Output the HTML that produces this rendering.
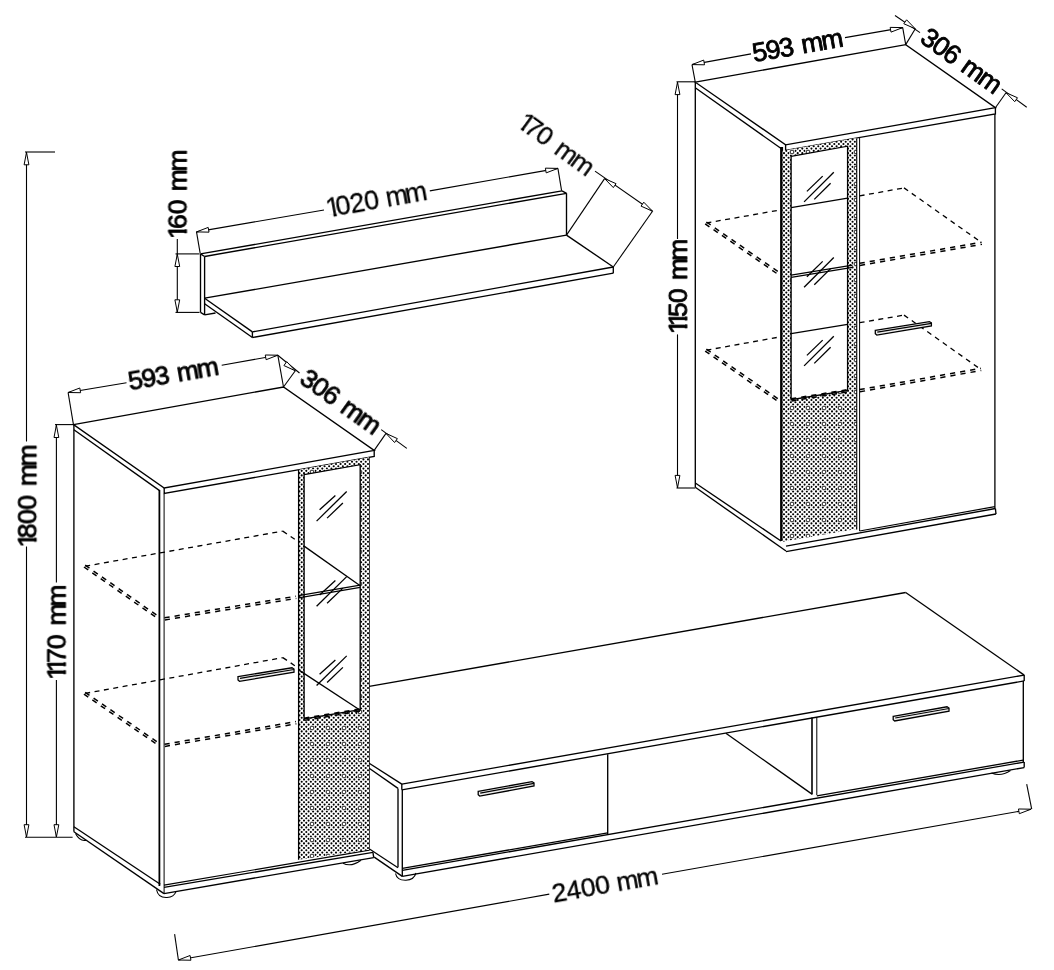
<!DOCTYPE html>
<html><head><meta charset="utf-8"><title>Furniture dimensions</title>
<style>
html,body{margin:0;padding:0;background:#fff;}
body{width:1054px;height:970px;overflow:hidden;font-family:"Liberation Sans",sans-serif;}
svg{display:block}
svg text{font-family:"Liberation Sans",sans-serif;}
</style></head><body>
<svg width="1054" height="970" viewBox="0 0 1054 970" stroke="#000" fill="none" stroke-linecap="butt">
<defs>
<pattern id="pat" width="32" height="32" patternUnits="userSpaceOnUse"><rect width="32" height="32" fill="#fff" stroke="none"/><g fill="#000" stroke="none"><circle cx="0.00" cy="0.00" r="1.06"/><circle cx="2.29" cy="2.29" r="1.06"/><circle cx="0.00" cy="4.57" r="1.06"/><circle cx="2.29" cy="6.86" r="1.06"/><circle cx="0.00" cy="9.14" r="1.06"/><circle cx="2.29" cy="11.43" r="1.06"/><circle cx="0.00" cy="13.71" r="1.06"/><circle cx="2.29" cy="16.00" r="1.06"/><circle cx="0.00" cy="18.29" r="1.06"/><circle cx="2.29" cy="20.57" r="1.06"/><circle cx="0.00" cy="22.86" r="1.06"/><circle cx="2.29" cy="25.14" r="1.06"/><circle cx="0.00" cy="27.43" r="1.06"/><circle cx="2.29" cy="29.71" r="1.06"/><circle cx="0.00" cy="32.00" r="1.06"/><circle cx="4.57" cy="0.00" r="1.06"/><circle cx="6.86" cy="2.29" r="1.06"/><circle cx="4.57" cy="4.57" r="1.06"/><circle cx="6.86" cy="6.86" r="1.06"/><circle cx="4.57" cy="9.14" r="1.06"/><circle cx="6.86" cy="11.43" r="1.06"/><circle cx="4.57" cy="13.71" r="1.06"/><circle cx="6.86" cy="16.00" r="1.06"/><circle cx="4.57" cy="18.29" r="1.06"/><circle cx="6.86" cy="20.57" r="1.06"/><circle cx="4.57" cy="22.86" r="1.06"/><circle cx="6.86" cy="25.14" r="1.06"/><circle cx="4.57" cy="27.43" r="1.06"/><circle cx="6.86" cy="29.71" r="1.06"/><circle cx="4.57" cy="32.00" r="1.06"/><circle cx="9.14" cy="0.00" r="1.06"/><circle cx="11.43" cy="2.29" r="1.06"/><circle cx="9.14" cy="4.57" r="1.06"/><circle cx="11.43" cy="6.86" r="1.06"/><circle cx="9.14" cy="9.14" r="1.06"/><circle cx="11.43" cy="11.43" r="1.06"/><circle cx="9.14" cy="13.71" r="1.06"/><circle cx="11.43" cy="16.00" r="1.06"/><circle cx="9.14" cy="18.29" r="1.06"/><circle cx="11.43" cy="20.57" r="1.06"/><circle cx="9.14" cy="22.86" r="1.06"/><circle cx="11.43" cy="25.14" r="1.06"/><circle cx="9.14" cy="27.43" r="1.06"/><circle cx="11.43" cy="29.71" r="1.06"/><circle cx="9.14" cy="32.00" r="1.06"/><circle cx="13.71" cy="0.00" r="1.06"/><circle cx="16.00" cy="2.29" r="1.06"/><circle cx="13.71" cy="4.57" r="1.06"/><circle cx="16.00" cy="6.86" r="1.06"/><circle cx="13.71" cy="9.14" r="1.06"/><circle cx="16.00" cy="11.43" r="1.06"/><circle cx="13.71" cy="13.71" r="1.06"/><circle cx="16.00" cy="16.00" r="1.06"/><circle cx="13.71" cy="18.29" r="1.06"/><circle cx="16.00" cy="20.57" r="1.06"/><circle cx="13.71" cy="22.86" r="1.06"/><circle cx="16.00" cy="25.14" r="1.06"/><circle cx="13.71" cy="27.43" r="1.06"/><circle cx="16.00" cy="29.71" r="1.06"/><circle cx="13.71" cy="32.00" r="1.06"/><circle cx="18.29" cy="0.00" r="1.06"/><circle cx="20.57" cy="2.29" r="1.06"/><circle cx="18.29" cy="4.57" r="1.06"/><circle cx="20.57" cy="6.86" r="1.06"/><circle cx="18.29" cy="9.14" r="1.06"/><circle cx="20.57" cy="11.43" r="1.06"/><circle cx="18.29" cy="13.71" r="1.06"/><circle cx="20.57" cy="16.00" r="1.06"/><circle cx="18.29" cy="18.29" r="1.06"/><circle cx="20.57" cy="20.57" r="1.06"/><circle cx="18.29" cy="22.86" r="1.06"/><circle cx="20.57" cy="25.14" r="1.06"/><circle cx="18.29" cy="27.43" r="1.06"/><circle cx="20.57" cy="29.71" r="1.06"/><circle cx="18.29" cy="32.00" r="1.06"/><circle cx="22.86" cy="0.00" r="1.06"/><circle cx="25.14" cy="2.29" r="1.06"/><circle cx="22.86" cy="4.57" r="1.06"/><circle cx="25.14" cy="6.86" r="1.06"/><circle cx="22.86" cy="9.14" r="1.06"/><circle cx="25.14" cy="11.43" r="1.06"/><circle cx="22.86" cy="13.71" r="1.06"/><circle cx="25.14" cy="16.00" r="1.06"/><circle cx="22.86" cy="18.29" r="1.06"/><circle cx="25.14" cy="20.57" r="1.06"/><circle cx="22.86" cy="22.86" r="1.06"/><circle cx="25.14" cy="25.14" r="1.06"/><circle cx="22.86" cy="27.43" r="1.06"/><circle cx="25.14" cy="29.71" r="1.06"/><circle cx="22.86" cy="32.00" r="1.06"/><circle cx="27.43" cy="0.00" r="1.06"/><circle cx="29.71" cy="2.29" r="1.06"/><circle cx="27.43" cy="4.57" r="1.06"/><circle cx="29.71" cy="6.86" r="1.06"/><circle cx="27.43" cy="9.14" r="1.06"/><circle cx="29.71" cy="11.43" r="1.06"/><circle cx="27.43" cy="13.71" r="1.06"/><circle cx="29.71" cy="16.00" r="1.06"/><circle cx="27.43" cy="18.29" r="1.06"/><circle cx="29.71" cy="20.57" r="1.06"/><circle cx="27.43" cy="22.86" r="1.06"/><circle cx="29.71" cy="25.14" r="1.06"/><circle cx="27.43" cy="27.43" r="1.06"/><circle cx="29.71" cy="29.71" r="1.06"/><circle cx="27.43" cy="32.00" r="1.06"/><circle cx="32.00" cy="0.00" r="1.06"/><circle cx="32.00" cy="4.57" r="1.06"/><circle cx="32.00" cy="9.14" r="1.06"/><circle cx="32.00" cy="13.71" r="1.06"/><circle cx="32.00" cy="18.29" r="1.06"/><circle cx="32.00" cy="22.86" r="1.06"/><circle cx="32.00" cy="27.43" r="1.06"/><circle cx="32.00" cy="32.00" r="1.06"/><circle cx="8" cy="8" r="2.9" fill="#fff"/><circle cx="8" cy="8" r="1.9" fill="none" stroke="#000" stroke-width="0.9"/><circle cx="24" cy="24" r="2.9" fill="#fff"/><circle cx="24" cy="24" r="1.9" fill="none" stroke="#000" stroke-width="0.9"/><circle cx="24" cy="8" r="2.9" fill="#fff"/><circle cx="24" cy="8" r="1.9" fill="none" stroke="#000" stroke-width="0.9"/><circle cx="8" cy="24" r="2.9" fill="#fff"/><circle cx="8" cy="24" r="1.9" fill="none" stroke="#000" stroke-width="0.9"/></g></pattern><clipPath id="c1_0"><path d="M-3,-40 H30 V-2.91 H9.74 V3 H5.93 V-2.91 H-3 Z"/></clipPath><clipPath id="c1_1"><path d="M-3,-40 H30 V-2.66 H9.56 V3 H6.28 V-2.66 H-3 Z"/></clipPath><clipPath id="c1_2"><path d="M-3,-40 H30 V-2.63 H9.43 V3 H6.18 V-2.63 H-3 Z"/></clipPath>
</defs>
<rect width="1054" height="970" fill="#fff" stroke="none"/>
<line x1="26.5" y1="152" x2="26.5" y2="441.5" stroke-width="1.1"/>
<line x1="26.5" y1="546.5" x2="26.5" y2="837" stroke-width="1.1"/>
<line x1="25" y1="152" x2="55" y2="152" stroke-width="1.1"/>
<line x1="25" y1="837.2" x2="72.6" y2="837.2" stroke-width="1.1"/>
<polygon points="26.5,152.5 24.1,164.8 28.9,164.8" fill="#fff" stroke-width="1.0"/>
<polygon points="26.5,837 28.9,824.7 24.1,824.7" fill="#fff" stroke-width="1.0"/>
<line x1="56.4" y1="424" x2="56.4" y2="582.5" stroke-width="1.1"/>
<line x1="56.4" y1="680" x2="56.4" y2="837" stroke-width="1.1"/>
<line x1="55" y1="424.6" x2="73.5" y2="424.6" stroke-width="1.1"/>
<polygon points="56.4,425.2 54.0,437.5 58.8,437.5" fill="#fff" stroke-width="1.0"/>
<polygon points="56.4,837 58.8,824.7 54.0,824.7" fill="#fff" stroke-width="1.0"/>
<polygon points="73.5,424.6 283.5,387 374.2,450.4 164.2,488.0" fill="none" stroke-width="1.35"/>
<polyline points="164.2,488.0 164.2,493.4 374.2,456.4 374.2,450.4" fill="none" stroke-width="1.35"/>
<line x1="73.9" y1="429.8" x2="159.6" y2="490.6" stroke-width="1.35"/>
<line x1="73.9" y1="424" x2="73.9" y2="831.7" stroke-width="1.35"/>
<line x1="159.4" y1="490" x2="159.4" y2="886" stroke-width="1.8"/>
<line x1="164.1" y1="493.8" x2="164.1" y2="893.6" stroke-width="1.0"/>
<line x1="369.2" y1="456.9" x2="369.2" y2="850.5" stroke-width="1.35"/>
<line x1="73.9" y1="826.7" x2="160.3" y2="884.3" stroke-width="1.35"/>
<line x1="73.9" y1="831.7" x2="164" y2="893.6" stroke-width="1.35"/>
<line x1="164" y1="887.3" x2="373" y2="852.3" stroke-width="1.35"/>
<line x1="164" y1="885.2" x2="369.2" y2="850.2" stroke-width="1.2"/>
<line x1="164" y1="893.6" x2="373.7" y2="857.6" stroke-width="1.35"/>
<line x1="373" y1="852.3" x2="373.7" y2="857.6" stroke-width="1.35"/>
<path d="M75.5,833.5 Q80,842 86.5,840.2" fill="none" stroke-width="1.1"/>
<path d="M156.5,889.5 Q158,898 167,897.5 Q174,897 176,891.6" fill="none" stroke-width="1.1"/>
<path d="M343,863.2 Q351,867.5 361,860.2" fill="none" stroke-width="1.1"/>
<path fill-rule="evenodd" fill="url(#pat)" stroke="none" d="M298.6,469.81899999999996 L369.2,457.28749999999997 L369.2,849.7 L298.6,859.8 Z M304.1,474.7 L360.2,464.7 L360.2,709.7 L304.1,719 Z"/>
<line x1="298.6" y1="469.81899999999996" x2="298.6" y2="859.8" stroke-width="1.3"/>
<polygon points="304.1,474.7 360.2,464.7 360.2,709.7 304.1,719" fill="none" stroke-width="1.35"/>
<line x1="85.2" y1="566.2" x2="282.8" y2="531.1" stroke-width="1.3" stroke-dasharray="5 4.5"/>
<line x1="282.8" y1="531.1" x2="298" y2="541.5" stroke-width="1.3" stroke-dasharray="5 4.5"/>
<line x1="304.1" y1="546.1" x2="360.2" y2="585.7" stroke-width="1.3"/>
<line x1="85.2" y1="565.2" x2="160.3" y2="617.6" stroke-width="1.5" stroke-dasharray="5.2 5"/>
<line x1="83.94" y1="567.0" x2="159.04" y2="619.4" stroke-width="1.5" stroke-dasharray="5.2 5"/>
<line x1="164.5" y1="617.8" x2="296" y2="596.2" stroke-width="1.5" stroke-dasharray="5.2 5"/>
<line x1="164.86" y1="619.97" x2="296.36" y2="598.37" stroke-width="1.5" stroke-dasharray="5.2 5"/>
<line x1="298.6" y1="595.7" x2="360.2" y2="585.2" stroke-width="1.2"/>
<line x1="298.6" y1="597.9" x2="360.2" y2="587.4" stroke-width="1.2"/>
<line x1="85.2" y1="693.4" x2="282.8" y2="657.6" stroke-width="1.3" stroke-dasharray="5 4.5"/>
<line x1="282.8" y1="657.6" x2="296" y2="666.5" stroke-width="1.3" stroke-dasharray="5 4.5"/>
<line x1="299" y1="670.1" x2="360.2" y2="710.2" stroke-width="1.3"/>
<line x1="85.2" y1="692.4" x2="160.3" y2="744" stroke-width="1.5" stroke-dasharray="5.2 5"/>
<line x1="83.95" y1="694.21" x2="159.05" y2="745.81" stroke-width="1.5" stroke-dasharray="5.2 5"/>
<line x1="164.5" y1="744.3" x2="296" y2="721.6" stroke-width="1.5" stroke-dasharray="5.2 5"/>
<line x1="164.87" y1="746.47" x2="296.37" y2="723.77" stroke-width="1.5" stroke-dasharray="5.2 5"/>
<line x1="304.1" y1="718.2" x2="360.2" y2="708.9" stroke-width="1.5" stroke-dasharray="5.2 5"/>
<line x1="304.46" y1="720.37" x2="360.56" y2="711.07" stroke-width="1.5" stroke-dasharray="5.2 5"/>
<line x1="316.6" y1="521.1" x2="346.7" y2="491.5" stroke-width="1.3"/>
<line x1="319.6" y1="509.8" x2="335.4" y2="495.5" stroke-width="1.3"/>
<line x1="327.1" y1="518.1" x2="342.9" y2="503" stroke-width="1.3"/>
<line x1="316.6" y1="606.2" x2="346.7" y2="576.6" stroke-width="1.3"/>
<line x1="319.6" y1="594.9" x2="335.4" y2="580.6" stroke-width="1.3"/>
<line x1="327.1" y1="603.2" x2="342.9" y2="588.1" stroke-width="1.3"/>
<line x1="316.6" y1="685.5" x2="346.7" y2="655.9" stroke-width="1.3"/>
<line x1="319.6" y1="674.2" x2="335.4" y2="659.9" stroke-width="1.3"/>
<line x1="327.1" y1="682.5" x2="342.9" y2="667.4" stroke-width="1.3"/>
<polygon points="238,676.6 292,667.8 294,669.0 294,672.1999999999999 239.5,681.3 238,680.0" fill="#eee" stroke-width="1.3"/>
<line x1="240" y1="678.3000000000001" x2="294" y2="669.5" stroke-width="1.2"/>
<line x1="369.2" y1="686.4" x2="905.7" y2="592.5" stroke-width="1.35"/>
<line x1="905.7" y1="592.5" x2="1024.2" y2="675.1" stroke-width="1.35"/>
<line x1="401.8" y1="784.1" x2="1024.2" y2="675.1" stroke-width="1.35"/>
<line x1="401.8" y1="789.8" x2="1024.2" y2="680.9" stroke-width="1.35"/>
<line x1="1024.2" y1="675.1" x2="1024.2" y2="680.9" stroke-width="1.35"/>
<line x1="401.8" y1="784.1" x2="401.8" y2="789.8" stroke-width="1.35"/>
<line x1="369.2" y1="763.3" x2="401.8" y2="784.1" stroke-width="1.35"/>
<line x1="369.2" y1="768.3" x2="398" y2="788.4" stroke-width="1.35"/>
<line x1="398" y1="788.4" x2="398" y2="867.3" stroke-width="1.35"/>
<line x1="402.3" y1="789.8" x2="402.3" y2="876.4" stroke-width="1.35"/>
<line x1="374.2" y1="857.1" x2="402.3" y2="876.4" stroke-width="1.35"/>
<line x1="369.5" y1="849" x2="398" y2="867.8" stroke-width="1.2"/>
<line x1="402.3" y1="870.4" x2="1024.2" y2="762.1" stroke-width="1.35"/>
<line x1="402.3" y1="876.4" x2="1024.2" y2="767.6" stroke-width="1.35"/>
<line x1="1024.2" y1="762.1" x2="1024.2" y2="767.6" stroke-width="1.35"/>
<line x1="1023.3" y1="681" x2="1023.3" y2="762" stroke-width="1.35"/>
<line x1="607.7" y1="754.2" x2="607.7" y2="834.2" stroke-width="1.35"/>
<line x1="402.3" y1="868.4" x2="607.7" y2="832.8" stroke-width="1.3"/>
<line x1="812" y1="717.5" x2="812" y2="794.5" stroke-width="1.6"/>
<line x1="816.8" y1="717" x2="816.8" y2="795" stroke-width="1.0"/>
<line x1="816.8" y1="795.8" x2="1023.3" y2="760.1" stroke-width="1.3"/>
<line x1="725.9" y1="733.3" x2="812" y2="794.1" stroke-width="1.35"/>
<path d="M395.5,873.5 Q397,880.5 406,880.2 Q414,880 416,873" fill="none" stroke-width="1.1"/>
<path d="M991.5,773 Q1001,777 1010.5,770.5" fill="none" stroke-width="1.1"/>
<polygon points="478.2,791.4 532,781.6 534,782.8000000000001 534,786.0 479.7,796.0999999999999 478.2,794.8" fill="#eee" stroke-width="1.3"/>
<line x1="480.2" y1="793.1" x2="534" y2="783.3000000000001" stroke-width="1.2"/>
<polygon points="893.2,716.3 947,706.8 949,708.0 949,711.1999999999999 894.7,720.9999999999999 893.2,719.6999999999999" fill="#eee" stroke-width="1.3"/>
<line x1="895.2" y1="718.0" x2="949" y2="708.5" stroke-width="1.2"/>
<line x1="178.4" y1="960" x2="549.3" y2="894.1" stroke-width="1.1"/>
<line x1="662" y1="874.3" x2="1031" y2="809.2" stroke-width="1.1"/>
<line x1="174.6" y1="934.2" x2="178.4" y2="960" stroke-width="1.1"/>
<line x1="1026.7" y1="784.1" x2="1031.7" y2="809.2" stroke-width="1.1"/>
<polygon points="178.4,960 190.93,960.22 190.09,955.49" fill="#fff" stroke-width="1.0"/>
<polygon points="1031,809.2 1018.47,808.98 1019.31,813.71" fill="#fff" stroke-width="1.0"/>
<line x1="200.5" y1="253.9" x2="200.5" y2="312.4" stroke-width="1.35"/>
<line x1="204.6" y1="256.5" x2="204.6" y2="314.9" stroke-width="1.35"/>
<line x1="200.5" y1="253.9" x2="204.6" y2="256.5" stroke-width="1.35"/>
<line x1="200.5" y1="312.4" x2="204.6" y2="314.9" stroke-width="1.35"/>
<line x1="200.5" y1="253.9" x2="562" y2="190.8" stroke-width="1.35"/>
<line x1="204.6" y1="256.5" x2="566.5" y2="193.3" stroke-width="1.35"/>
<line x1="562" y1="190.8" x2="566.5" y2="193.3" stroke-width="1.35"/>
<line x1="566.5" y1="193.3" x2="566.5" y2="235.1" stroke-width="1.35"/>
<line x1="204.6" y1="298.2" x2="566.5" y2="235.1" stroke-width="1.35"/>
<line x1="204.6" y1="298.2" x2="252.4" y2="331.9" stroke-width="1.35"/>
<line x1="204.6" y1="303.8" x2="252.4" y2="337.5" stroke-width="1.35"/>
<line x1="252.4" y1="331.9" x2="252.4" y2="337.5" stroke-width="1.35"/>
<line x1="204.6" y1="314.9" x2="215.5" y2="313" stroke-width="1.35"/>
<line x1="252.4" y1="331.9" x2="613.3" y2="267" stroke-width="1.35"/>
<line x1="252.4" y1="337.5" x2="613.3" y2="273.2" stroke-width="1.35"/>
<line x1="613.3" y1="267" x2="613.3" y2="273.2" stroke-width="1.35"/>
<line x1="566.5" y1="235.1" x2="613.3" y2="267" stroke-width="1.35"/>
<line x1="177.3" y1="239" x2="177.3" y2="312.4" stroke-width="1.1"/>
<line x1="175.5" y1="253.9" x2="199.5" y2="253.9" stroke-width="1.1"/>
<line x1="175.5" y1="312.4" x2="199.5" y2="312.4" stroke-width="1.1"/>
<polygon points="177.3,254.2 174.9,266.5 179.7,266.5" fill="#fff" stroke-width="1.0"/>
<polygon points="177.3,312.1 179.7,299.8 174.9,299.8" fill="#fff" stroke-width="1.0"/>
<line x1="196.5" y1="231.9" x2="324" y2="210" stroke-width="1.1"/>
<line x1="429.8" y1="190.9" x2="557.9" y2="168.4" stroke-width="1.1"/>
<line x1="196.5" y1="231.9" x2="200.2" y2="253.3" stroke-width="1.1"/>
<line x1="557.9" y1="168.4" x2="561.6" y2="190.6" stroke-width="1.1"/>
<polygon points="196.5,231.9 209.03,232.15 208.2,227.42" fill="#fff" stroke-width="1.0"/>
<polygon points="557.9,168.4 545.37,168.15 546.2,172.88" fill="#fff" stroke-width="1.0"/>
<line x1="595" y1="171.1" x2="652.5" y2="211.2" stroke-width="1.1"/>
<line x1="566.5" y1="235.1" x2="604.6" y2="178.6" stroke-width="1.1"/>
<line x1="613.3" y1="267" x2="652.5" y2="211.2" stroke-width="1.1"/>
<polygon points="604.6,178.6 613.32,187.6 616.06,183.66" fill="#fff" stroke-width="1.0"/>
<polygon points="652.5,211.2 643.78,202.2 641.04,206.14" fill="#fff" stroke-width="1.0"/>
<polygon points="695.3,82.2 905.7,44.6 995.4,107.7 785.6,144.8" fill="none" stroke-width="1.35"/>
<polyline points="785.6,144.8 785.6,150.3 995.4,114 995.4,107.7" fill="none" stroke-width="1.35"/>
<line x1="695.6" y1="88.0" x2="781.5" y2="148.8" stroke-width="1.35"/>
<line x1="695.3" y1="82.2" x2="695.3" y2="487.3" stroke-width="1.35"/>
<line x1="781.6" y1="147" x2="781.6" y2="541" stroke-width="3.0"/>
<line x1="994.9" y1="114" x2="994.9" y2="508.5" stroke-width="1.3"/>
<line x1="856.6" y1="138.5" x2="856.6" y2="529.5" stroke-width="1.35"/>
<line x1="859.6" y1="138" x2="859.6" y2="531" stroke-width="1.0"/>
<line x1="695.3" y1="483" x2="781" y2="541" stroke-width="1.35"/>
<line x1="695.3" y1="487.3" x2="786" y2="551" stroke-width="1.35"/>
<line x1="786" y1="546.1" x2="995.4" y2="508.5" stroke-width="1.35"/>
<line x1="786" y1="551.6" x2="996" y2="514" stroke-width="1.35"/>
<line x1="995.4" y1="508.5" x2="996" y2="514" stroke-width="1.35"/>
<line x1="859.6" y1="531.0" x2="994.9" y2="506.6" stroke-width="1.2"/>
<path fill-rule="evenodd" fill="url(#pat)" stroke="none" d="M782.5,150.83630000000002 L856.2,138.08620000000002 L856.2,529.1 L782.5,541.8 Z M791.1,156.4 L847.6,146.2 L847.6,390.5 L791.1,399.6 Z"/>
<polygon points="791.1,156.4 847.6,146.2 847.6,390.5 791.1,399.6" fill="none" stroke-width="1.35"/>
<line x1="791.1" y1="207.7" x2="847.6" y2="198.2" stroke-width="1.3"/>
<line x1="859.6" y1="195.9" x2="904" y2="187.9" stroke-width="1.3" stroke-dasharray="5 4.5"/>
<line x1="904" y1="187.9" x2="980.4" y2="241.7" stroke-width="1.3" stroke-dasharray="5 4.5"/>
<line x1="859.6" y1="263.3" x2="981.6" y2="242.2" stroke-width="1.5" stroke-dasharray="5.2 5"/>
<line x1="859.97" y1="265.47" x2="981.97" y2="244.37" stroke-width="1.5" stroke-dasharray="5.2 5"/>
<line x1="791.1" y1="275.2" x2="852.6" y2="265.2" stroke-width="1.2"/>
<line x1="791.1" y1="277.4" x2="852.6" y2="267.4" stroke-width="1.2"/>
<line x1="706.4" y1="222" x2="780" y2="273" stroke-width="1.5" stroke-dasharray="5.2 5"/>
<line x1="705.15" y1="223.81" x2="778.75" y2="274.81" stroke-width="1.5" stroke-dasharray="5.2 5"/>
<line x1="706.4" y1="223" x2="780" y2="210" stroke-width="1.3" stroke-dasharray="5 4.5"/>
<line x1="791.1" y1="333.7" x2="847.6" y2="324.4" stroke-width="1.3"/>
<line x1="859.6" y1="322.7" x2="904" y2="315.1" stroke-width="1.3" stroke-dasharray="5 4.5"/>
<line x1="904" y1="315.1" x2="980.9" y2="369.5" stroke-width="1.3" stroke-dasharray="5 4.5"/>
<line x1="859.6" y1="389.6" x2="980.9" y2="368.3" stroke-width="1.5" stroke-dasharray="5.2 5"/>
<line x1="859.98" y1="391.77" x2="981.28" y2="370.47" stroke-width="1.5" stroke-dasharray="5.2 5"/>
<line x1="706.4" y1="350.2" x2="780" y2="336.9" stroke-width="1.3" stroke-dasharray="5 4.5"/>
<line x1="706.4" y1="349.2" x2="780" y2="400.2" stroke-width="1.5" stroke-dasharray="5.2 5"/>
<line x1="705.15" y1="351.01" x2="778.75" y2="402.01" stroke-width="1.5" stroke-dasharray="5.2 5"/>
<line x1="791.1" y1="398.8" x2="847.6" y2="389.7" stroke-width="1.5" stroke-dasharray="5.2 5"/>
<line x1="791.45" y1="400.97" x2="847.95" y2="391.87" stroke-width="1.5" stroke-dasharray="5.2 5"/>
<line x1="804.1" y1="201.9" x2="833.8" y2="172.2" stroke-width="1.3"/>
<line x1="806.9" y1="191.4" x2="822.7" y2="176.1" stroke-width="1.3"/>
<line x1="814.3" y1="199.4" x2="830.6" y2="183.3" stroke-width="1.3"/>
<line x1="804.1" y1="287.2" x2="833.8" y2="257.5" stroke-width="1.3"/>
<line x1="806.9" y1="276.7" x2="822.7" y2="261.4" stroke-width="1.3"/>
<line x1="814.3" y1="284.7" x2="830.6" y2="268.6" stroke-width="1.3"/>
<line x1="804.1" y1="365.9" x2="833.8" y2="336.2" stroke-width="1.3"/>
<line x1="806.9" y1="355.4" x2="822.7" y2="340.1" stroke-width="1.3"/>
<line x1="814.3" y1="363.4" x2="830.6" y2="347.3" stroke-width="1.3"/>
<polygon points="875.3,330.4 929.4,321.6 931.4,322.8 931.4,326.0 876.8,335.09999999999997 875.3,333.79999999999995" fill="#eee" stroke-width="1.3"/>
<line x1="877.3" y1="332.09999999999997" x2="931.4" y2="323.3" stroke-width="1.2"/>
<line x1="677.5" y1="82" x2="677.5" y2="239" stroke-width="1.1"/>
<line x1="677.5" y1="334.4" x2="677.5" y2="488" stroke-width="1.1"/>
<line x1="676.5" y1="81.8" x2="695.3" y2="81.8" stroke-width="1.1"/>
<line x1="676.5" y1="488" x2="695.3" y2="488" stroke-width="1.1"/>
<polygon points="677.5,82.3 675.1,94.6 679.9,94.6" fill="#fff" stroke-width="1.0"/>
<polygon points="677.5,487.7 679.9,475.4 675.1,475.4" fill="#fff" stroke-width="1.0"/>
<line x1="692" y1="64.6" x2="751" y2="53.9" stroke-width="1.1"/>
<line x1="845" y1="37.6" x2="902.7" y2="27.6" stroke-width="1.1"/>
<line x1="692" y1="64.6" x2="695.3" y2="82.2" stroke-width="1.1"/>
<line x1="902.7" y1="27.6" x2="905.7" y2="44.6" stroke-width="1.1"/>
<polygon points="692,64.6 704.53,64.81 703.69,60.08" fill="#fff" stroke-width="1.0"/>
<polygon points="902.7,27.6 890.17,27.39 891.01,32.12" fill="#fff" stroke-width="1.0"/>
<line x1="895" y1="15.5" x2="920" y2="32.6" stroke-width="1.1"/>
<line x1="1001.7" y1="88.9" x2="1026.7" y2="107.2" stroke-width="1.1"/>
<line x1="905.7" y1="44.6" x2="915.3" y2="28.8" stroke-width="1.1"/>
<line x1="995.4" y1="107.7" x2="1006" y2="92.7" stroke-width="1.1"/>
<polygon points="915.3,28.8 906.58,19.8 903.83,23.74" fill="#fff" stroke-width="1.0"/>
<polygon points="1006,92.7 1014.72,101.7 1017.47,97.76" fill="#fff" stroke-width="1.0"/>
<line x1="68.1" y1="392.5" x2="126.5" y2="382.8" stroke-width="1.1"/>
<line x1="221.7" y1="365.2" x2="277.8" y2="355.2" stroke-width="1.1"/>
<line x1="68.1" y1="392.5" x2="73.4" y2="424.4" stroke-width="1.1"/>
<line x1="277.8" y1="355.2" x2="283.5" y2="387" stroke-width="1.1"/>
<polygon points="68.1,392.5 80.63,392.71 79.79,387.99" fill="#fff" stroke-width="1.0"/>
<polygon points="277.8,355.2 265.27,354.99 266.11,359.71" fill="#fff" stroke-width="1.0"/>
<line x1="277.8" y1="355.2" x2="299.5" y2="373" stroke-width="1.1"/>
<line x1="381.2" y1="429.6" x2="406.8" y2="448.4" stroke-width="1.1"/>
<line x1="283.5" y1="387" x2="295.3" y2="370.8" stroke-width="1.1"/>
<line x1="374.2" y1="450.4" x2="386" y2="433.4" stroke-width="1.1"/>
<polygon points="295.3,370.8 286.72,361.67 283.92,365.56" fill="#fff" stroke-width="1.0"/>
<polygon points="386,433.4 394.58,442.53 397.38,438.64" fill="#fff" stroke-width="1.0"/>
<g opacity="0.999"><g transform="translate(36.2,545.5) rotate(-90)" font-size="26.5" stroke="#000" stroke-width="0.85" stroke-linejoin="round" fill="#000"><text transform="translate(-2.12,0)" x="0" y="0" clip-path="url(#c1_0)">1</text><text x="7.31 21.43 35.67 52.42 59.17 78.95" y="0">800 mm</text></g><g transform="translate(65.5,677.9) rotate(-90)" font-size="26.5" stroke="#000" stroke-width="0.85" stroke-linejoin="round" fill="#000"><text transform="translate(-2.12,0)" x="0" y="0" clip-path="url(#c1_0)">1</text><text transform="translate(5.81,0)" x="0" y="0" clip-path="url(#c1_0)">1</text><text x="14.93 28.77 45.52 52.27 71.35" y="0">70 mm</text></g><g transform="translate(186.5,237) rotate(-90)" font-size="26.5" stroke="#000" stroke-width="0.85" stroke-linejoin="round" fill="#000"><text transform="translate(-2.12,0)" x="0" y="0" clip-path="url(#c1_0)">1</text><text x="7.89 22.77 39.27 45.77 65.45" y="0">60 mm</text></g><g transform="translate(686.9,332.1) rotate(-90)" font-size="26.5" stroke="#000" stroke-width="0.85" stroke-linejoin="round" fill="#000"><text transform="translate(-2.12,0)" x="0" y="0" clip-path="url(#c1_0)">1</text><text transform="translate(5.71,0)" x="0" y="0" clip-path="url(#c1_0)">1</text><text x="15.02 28.97 45.47 51.97 71.15" y="0">50 mm</text></g><g transform="translate(130.3,390.2) rotate(-10)" font-size="26.5" stroke="#000" stroke-width="0.85" stroke-linejoin="round" fill="#000"><text x="-0.64 12.89 26.50 42.68 48.87 69.05" y="0">593 mm</text></g><g transform="translate(298.5,382.3) rotate(35.5)" font-size="26.5" stroke="#000" stroke-width="0.85" stroke-linejoin="round" fill="#000"><text x="-0.58 13.30 27.00 43.33 49.67 70.05" y="0">306 mm</text></g><g transform="translate(754.7,62.0) rotate(-10)" font-size="26.5" stroke="#000" stroke-width="0.85" stroke-linejoin="round" fill="#000"><text x="-0.64 12.89 26.50 42.68 48.87 69.05" y="0">593 mm</text></g><g transform="translate(919.1,41.5) rotate(35.5)" font-size="26.5" stroke="#000" stroke-width="0.85" stroke-linejoin="round" fill="#000"><text x="-0.58 13.30 27.00 43.33 49.67 70.05" y="0">306 mm</text></g><g transform="translate(329.9,217.1) rotate(-10.1)" font-size="26.8" stroke="#000" stroke-width="0.3" stroke-linejoin="round" fill="#000"><text transform="translate(-2.42,0)" x="0" y="0" clip-path="url(#c1_1)">1</text><text x="7.62 22.11 36.59 52.43 58.27 77.79" y="0">020 mm</text></g><g transform="translate(517.6,127.0) rotate(36)" font-size="26.4" stroke="#000" stroke-width="0.3" stroke-linejoin="round" fill="#000"><text transform="translate(-2.38,0)" x="0" y="0" clip-path="url(#c1_2)">1</text><text x="6.31 19.70 36.65 43.60 63.60" y="0">70 mm</text></g><g transform="translate(554.6,902.4) rotate(-10)" font-size="26.6" stroke="#000" stroke-width="0.4" stroke-linejoin="round" fill="#000"><text x="-1.14 13.52 28.31 42.85 58.59 64.33 84.40" y="0">2400 mm</text></g></g>
</svg>
</body></html>
